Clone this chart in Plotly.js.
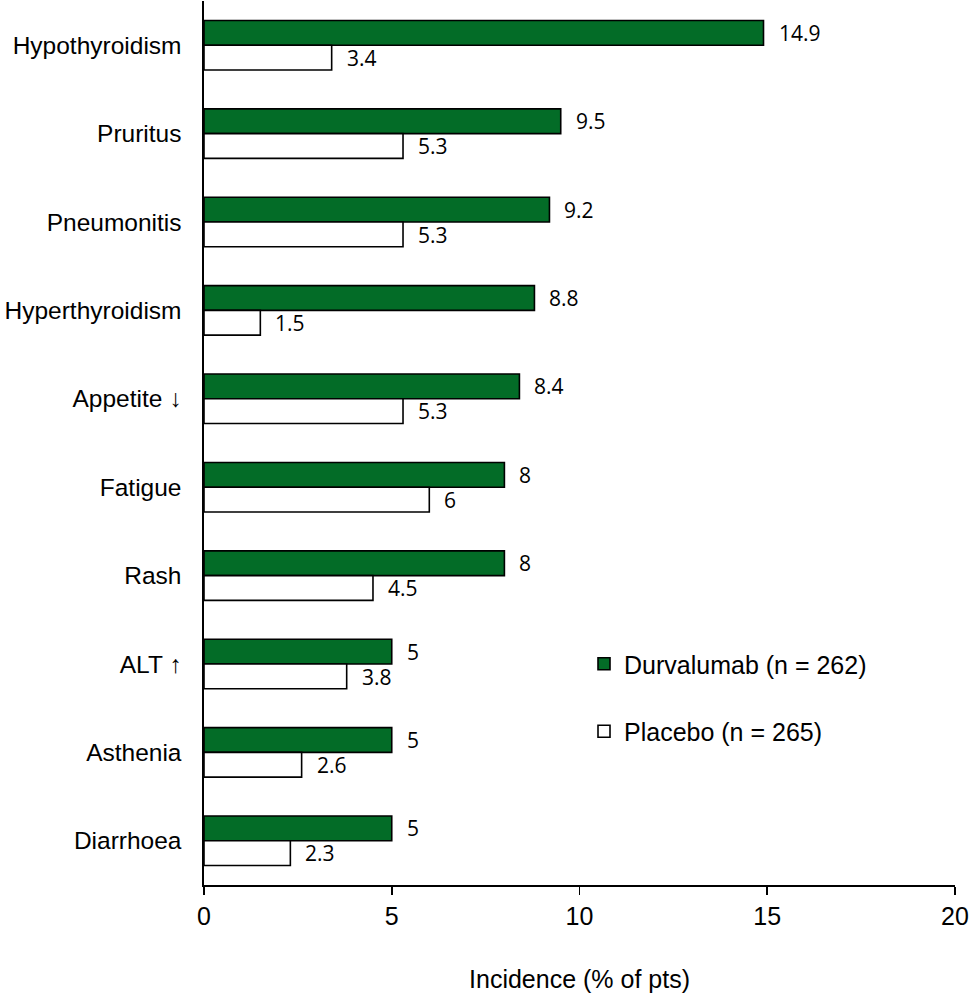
<!DOCTYPE html>
<html>
<head>
<meta charset="utf-8">
<script src="https://cdn.plot.ly/plotly-3.0.1.min.js"></script>
<style>
  html, body { margin: 0; padding: 0; background: #fff; }
  #chart { width: 969px; height: 993px; }
</style>
</head>
<body>
<div id="chart"></div>
<script>
// ── Data ──────────────────────────────────────────────────────────────────────
const events = ['Hypothyroidism', 'Pruritus', 'Pneumonitis', 'Hyperthyroidism', 'Appetite \u2193',
                'Fatigue', 'Rash', 'ALT \u2191', 'Asthenia', 'Diarrhoea'];
const durvalumab = [14.9, 9.5, 9.2, 8.8, 8.4, 8, 8, 5, 5, 5];
const placebo    = [3.4, 5.3, 5.3, 1.5, 5.3, 6, 4.5, 3.8, 2.6, 2.3];
const seriesNames = ['Durvalumab (n = 262)', 'Placebo (n = 265)'];
const xTicks = [0, 5, 10, 15, 20];

const GREEN = '#036c27';
const LABEL_FONT = { family: 'Open Sans, sans-serif', size: 21, color: '#000' };

// ── Traces ────────────────────────────────────────────────────────────────────
const traces = [
  {
    type: 'bar', orientation: 'h',
    name: seriesNames[0], legendgroup: 'd',
    x: durvalumab, y: events,
    marker: { color: GREEN, line: { color: '#000', width: 1.6 } },
    hoverinfo: 'x+y',
  },
  {
    type: 'bar', orientation: 'h',
    name: seriesNames[1], legendgroup: 'p',
    x: placebo, y: events,
    marker: { color: '#fff', line: { color: '#000', width: 1.6 } },
    hoverinfo: 'x+y',
  },
];

// value labels just past each bar end
function valueLabels(vals, shift) {
  return vals.map((v, i) => ({
    x: v, y: events[i], xref: 'x', yref: 'y',
    text: String(v), showarrow: false,
    xanchor: 'left', yanchor: 'middle',
    xshift: 13, yshift: shift,
    font: LABEL_FONT,
  }));
}

const layout = {
  width: 969, height: 993,
  paper_bgcolor: '#fff', plot_bgcolor: '#fff',
  font: { family: 'Liberation Sans, Arial, sans-serif', size: 25, color: '#000' },
  margin: { l: 204, r: 14, t: 1, b: 108 },
  barmode: 'group', bargap: 0.44, bargroupgap: 0,
  xaxis: {
    range: [0, 20], tickvals: xTicks, ticktext: xTicks.map(String),
    showgrid: false, zeroline: false,
    showline: true, linecolor: '#000', linewidth: 1.6,
    ticks: 'outside', ticklen: 8, tickwidth: 1.6, tickcolor: '#000',
    tickfont: { size: 25 },
    title: { text: 'Incidence (% of pts)', font: { size: 25 }, standoff: 43 },
    fixedrange: true,
  },
  yaxis: {
    autorange: 'reversed', type: 'category',
    showgrid: false, zeroline: false,
    showline: true, linecolor: '#000', linewidth: 1.6,
    ticks: '', ticklabelstandoff: 16,
    tickfont: { size: 24.5 },
    fixedrange: true,
  },
  showlegend: true,
  legend: {
    x: 0.506, xanchor: 'left', y: 0.276, yanchor: 'top',
    traceorder: 'grouped', tracegroupgap: 32,
    font: { size: 25 }, bgcolor: 'rgba(0,0,0,0)',
  },
  annotations: [...valueLabels(durvalumab, 12.5), ...valueLabels(placebo, -12.5)],
};

Plotly.newPlot('chart', traces, layout, { displayModeBar: false, staticPlot: true });
</script>
</body>
</html>
